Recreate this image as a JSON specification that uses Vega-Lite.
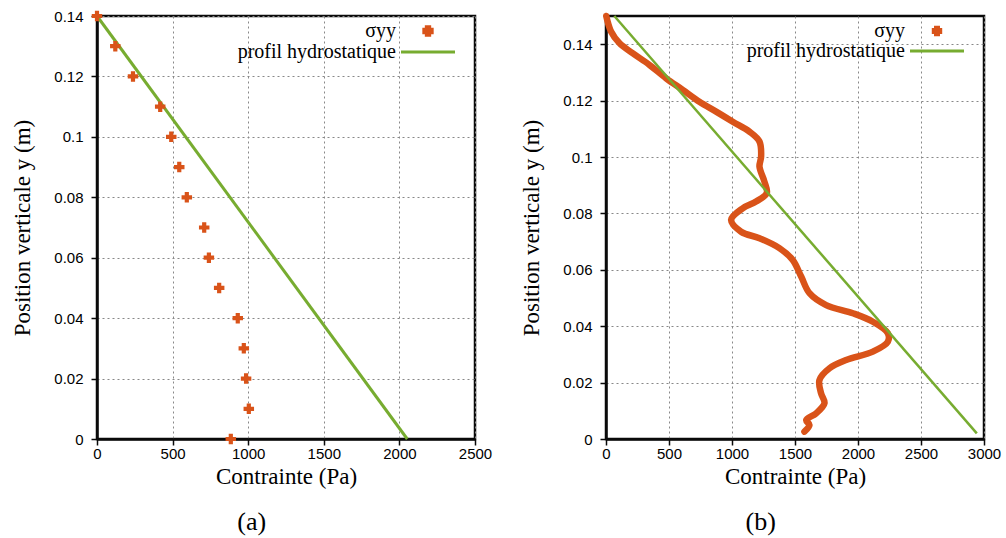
{
  "$schema": "https://vega.github.io/schema/vega-lite/v6.json",
  "padding": {"left": 10, "top": 7, "right": 5, "bottom": 0},
  "background": "white",
  "datasets": {
    "leftPts": [
      {"x": 0, "y": 0.14, "serie": "σyy"},
      {"x": 121, "y": 0.13, "serie": "σyy"},
      {"x": 238, "y": 0.12, "serie": "σyy"},
      {"x": 418, "y": 0.11, "serie": "σyy"},
      {"x": 491, "y": 0.10, "serie": "σyy"},
      {"x": 544, "y": 0.09, "serie": "σyy"},
      {"x": 594, "y": 0.08, "serie": "σyy"},
      {"x": 709, "y": 0.07, "serie": "σyy"},
      {"x": 740, "y": 0.06, "serie": "σyy"},
      {"x": 808, "y": 0.05, "serie": "σyy"},
      {"x": 931, "y": 0.04, "serie": "σyy"},
      {"x": 971, "y": 0.03, "serie": "σyy"},
      {"x": 986, "y": 0.02, "serie": "σyy"},
      {"x": 1004, "y": 0.01, "serie": "σyy"},
      {"x": 885, "y": 0.0, "serie": "σyy"}
    ],
    "leftLine": [
      {"x": 0, "y": 0.14, "serie": "profil hydrostatique"},
      {"x": 2052, "y": 0.0, "serie": "profil hydrostatique"}
    ],
    "rightCurve": [
      {"i": 0, "x": 2, "y": 0.1500, "serie": "σyy"},
      {"i": 1, "x": 40, "y": 0.1445, "serie": "σyy"},
      {"i": 2, "x": 106, "y": 0.1404, "serie": "σyy"},
      {"i": 3, "x": 211, "y": 0.1368, "serie": "σyy"},
      {"i": 4, "x": 344, "y": 0.1327, "serie": "σyy"},
      {"i": 5, "x": 477, "y": 0.1279, "serie": "σyy"},
      {"i": 6, "x": 609, "y": 0.1238, "serie": "σyy"},
      {"i": 7, "x": 741, "y": 0.1196, "serie": "σyy"},
      {"i": 8, "x": 874, "y": 0.1161, "serie": "σyy"},
      {"i": 9, "x": 1006, "y": 0.1125, "serie": "σyy"},
      {"i": 10, "x": 1138, "y": 0.1090, "serie": "σyy"},
      {"i": 11, "x": 1218, "y": 0.1055, "serie": "σyy"},
      {"i": 12, "x": 1231, "y": 0.1001, "serie": "σyy"},
      {"i": 13, "x": 1218, "y": 0.0966, "serie": "σyy"},
      {"i": 14, "x": 1257, "y": 0.0913, "serie": "σyy"},
      {"i": 15, "x": 1276, "y": 0.0872, "serie": "σyy"},
      {"i": 16, "x": 1191, "y": 0.0842, "serie": "σyy"},
      {"i": 17, "x": 1085, "y": 0.0818, "serie": "σyy"},
      {"i": 18, "x": 993, "y": 0.0777, "serie": "σyy"},
      {"i": 19, "x": 1072, "y": 0.0735, "serie": "σyy"},
      {"i": 20, "x": 1218, "y": 0.0712, "serie": "σyy"},
      {"i": 21, "x": 1376, "y": 0.0677, "serie": "σyy"},
      {"i": 22, "x": 1482, "y": 0.0635, "serie": "σyy"},
      {"i": 23, "x": 1549, "y": 0.0576, "serie": "σyy"},
      {"i": 24, "x": 1615, "y": 0.0517, "serie": "σyy"},
      {"i": 25, "x": 1747, "y": 0.0475, "serie": "σyy"},
      {"i": 26, "x": 1959, "y": 0.0446, "serie": "σyy"},
      {"i": 27, "x": 2118, "y": 0.0416, "serie": "σyy"},
      {"i": 28, "x": 2237, "y": 0.0375, "serie": "σyy"},
      {"i": 29, "x": 2237, "y": 0.0345, "serie": "σyy"},
      {"i": 30, "x": 2118, "y": 0.0310, "serie": "σyy"},
      {"i": 31, "x": 1906, "y": 0.0280, "serie": "σyy"},
      {"i": 32, "x": 1774, "y": 0.0251, "serie": "σyy"},
      {"i": 33, "x": 1694, "y": 0.0209, "serie": "σyy"},
      {"i": 34, "x": 1707, "y": 0.0162, "serie": "σyy"},
      {"i": 35, "x": 1734, "y": 0.0127, "serie": "σyy"},
      {"i": 36, "x": 1668, "y": 0.0091, "serie": "σyy"},
      {"i": 37, "x": 1589, "y": 0.0067, "serie": "σyy"},
      {"i": 38, "x": 1615, "y": 0.0050, "serie": "σyy"},
      {"i": 39, "x": 1575, "y": 0.0026, "serie": "σyy"}
    ],
    "rightLine": [
      {"x": 66, "y": 0.15, "serie": "profil hydrostatique"},
      {"x": 2943, "y": 0.002, "serie": "profil hydrostatique"}
    ]
  },
  "hconcat": [
    {
      "width": 378,
      "height": 423,
      "title": {"text": "(a)", "orient": "bottom", "anchor": "middle", "frame": "bounds", "offset": 21},
      "encoding": {
        "x": {"field": "x", "type": "quantitative",
              "scale": {"domain": [0, 2500], "nice": false, "zero": false},
              "axis": {"title": "Contrainte (Pa)", "values": [0, 500, 1000, 1500, 2000, 2500], "format": "d", "domain": true, "ticks": true}},
        "y": {"field": "y", "type": "quantitative",
              "scale": {"domain": [0, 0.14], "nice": false, "zero": false},
              "axis": {"title": "Position verticale y (m)", "values": [0, 0.02, 0.04, 0.06, 0.08, 0.1, 0.12, 0.14], "format": ".2~f", "domain": true, "ticks": true}},
        "color": {"field": "serie", "type": "nominal",
                  "scale": {"domain": ["σyy", "profil hydrostatique"], "range": ["#d95319", "#77ac30"]},
                  "legend": {"orient": "none", "legendX": 321, "legendY": 5,
                    "encode": {"symbols": {"update": {
                      "shape": {"signal": "datum.value === 'σyy' ? 'cross' : 'M-5.4,0H5.4'"},
                      "size": {"signal": "datum.value === 'σyy' ? 70 : 100"},
                      "fill": {"signal": "datum.value === 'σyy' ? '#d95319' : 'transparent'"},
                      "stroke": {"signal": "datum.value === 'σyy' ? 'transparent' : '#77ac30'"},
                      "strokeWidth": {"value": 3}, "opacity": {"value": 1}}}}}}
      },
      "layer": [
        {"data": {"name": "leftLine"}, "mark": {"type": "line", "strokeWidth": 3}},
        {"data": {"name": "leftPts"}, "mark": {"type": "point", "shape": "cross", "filled": true, "size": 110, "opacity": 1, "strokeWidth": 0}}
      ]
    },
    {
      "width": 378,
      "height": 423,
      "title": {"text": "(b)", "orient": "bottom", "anchor": "middle", "frame": "bounds", "offset": 21},
      "encoding": {
        "x": {"field": "x", "type": "quantitative",
              "scale": {"domain": [0, 3000], "nice": false, "zero": false},
              "axis": {"title": "Contrainte (Pa)", "values": [0, 500, 1000, 1500, 2000, 2500, 3000], "format": "d", "domain": true, "ticks": true}},
        "y": {"field": "y", "type": "quantitative",
              "scale": {"domain": [0, 0.15], "nice": false, "zero": false},
              "axis": {"title": "Position verticale y (m)", "values": [0, 0.02, 0.04, 0.06, 0.08, 0.1, 0.12, 0.14], "format": ".2~f", "domain": true, "ticks": true}},
        "color": {"field": "serie", "type": "nominal",
                  "scale": {"domain": ["σyy", "profil hydrostatique"], "range": ["#d95319", "#77ac30"]},
                  "legend": {"orient": "none", "legendX": 321, "legendY": 5,
                    "encode": {"symbols": {"update": {
                      "shape": {"signal": "datum.value === 'σyy' ? 'cross' : 'M-5.4,0H5.4'"},
                      "size": {"signal": "datum.value === 'σyy' ? 55 : 100"},
                      "fill": {"signal": "datum.value === 'σyy' ? '#d95319' : 'transparent'"},
                      "stroke": {"signal": "datum.value === 'σyy' ? 'transparent' : '#77ac30'"},
                      "strokeWidth": {"value": 3}, "opacity": {"value": 1}}}}}}
      },
      "layer": [
        {"data": {"name": "rightCurve"}, "mark": {"type": "line", "strokeWidth": 6.5, "interpolate": "catmull-rom", "strokeCap": "round", "strokeJoin": "round"},
         "encoding": {"order": {"field": "i", "type": "quantitative"}}},
        {"data": {"name": "rightLine"}, "mark": {"type": "line", "strokeWidth": 2.5}}
      ]
    }
  ],
  "spacing": 131,
  "bounds": "flush",
  "resolve": {"scale": {"color": "independent"}, "legend": {"color": "independent"}},
  "config": {
    "font": "Liberation Sans",
    "view": {"stroke": "#0a0a0a", "strokeWidth": 2.5},
    "axis": {
      "labelFont": "Liberation Sans", "labelFontSize": 15, "labelColor": "#000000", "labelFlush": false,
      "titleFont": "Liberation Serif", "titleFontSize": 23, "titleFontWeight": "normal", "titleColor": "#000000",
      "domainColor": "#0a0a0a", "domainWidth": 2.5,
      "tickColor": "#0a0a0a", "tickWidth": 1.5, "tickSize": 6,
      "gridColor": "#888888", "gridDash": [2, 3], "gridWidth": 1, "gridOpacity": 1
    },
    "axisX": {"titlePadding": 4, "labelPadding": 1},
    "axisY": {"titlePadding": 19, "labelPadding": 8},
    "legend": {
      "title": null,
      "labelFont": "Liberation Serif", "labelFontSize": 20, "labelColor": "#000000",
      "labelAlign": "right", "labelOffset": -42, "labelLimit": 0,
      "symbolType": "M-5,0H5", "symbolSize": 100, "symbolStrokeWidth": 3,
      "rowPadding": 0, "padding": 0,
      "symbolOpacity": 1
    },
    "title": {"font": "Liberation Serif", "fontSize": 26, "fontWeight": "normal", "color": "#000000"}
  }
}
